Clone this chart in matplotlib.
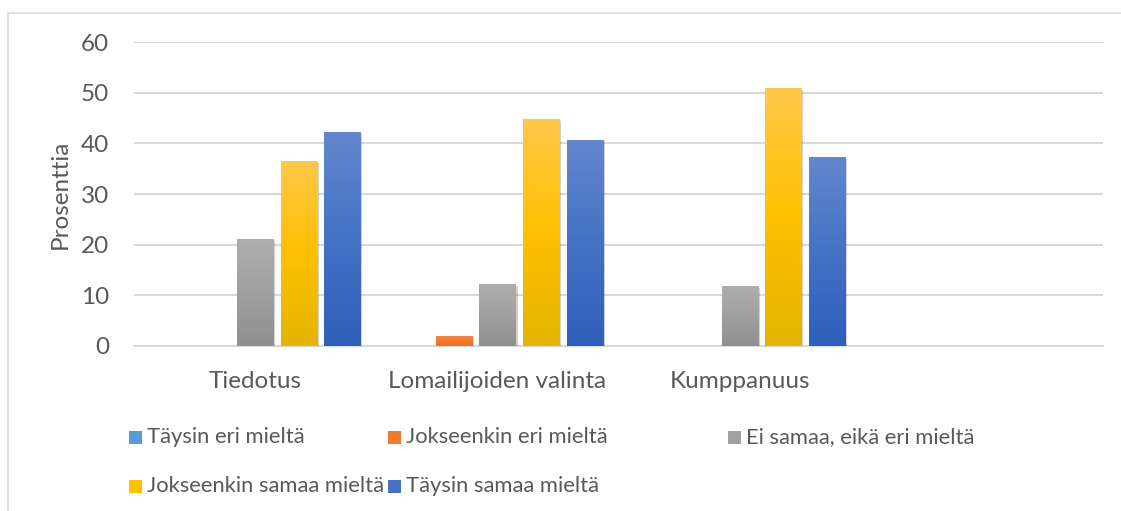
import numpy as np
import matplotlib
matplotlib.use("Agg")
import matplotlib.pyplot as plt
from matplotlib.patches import Rectangle
from matplotlib.colors import to_rgb
import matplotlib.patheffects as pe

plt.rcParams['font.family'] = ['Lato', 'DejaVu Sans']

categories = ["Tiedotus", "Lomailijoiden valinta", "Kumppanuus", ""]
series_names = ["Täysin eri mieltä", "Jokseenkin eri mieltä", "Ei samaa, eikä eri mieltä",
                "Jokseenkin samaa mieltä", "Täysin samaa mieltä"]
taysin_eri = [0, 0, 0, 0]
jokseenkin_eri = [0, 2.0, 0, 0]
ei_samaa = [21.1, 12.2, 11.8, 0]
jokseenkin_samaa = [36.5, 44.8, 50.9, 0]
taysin_samaa = [42.2, 40.7, 37.3, 0]
yticks = [0, 10, 20, 30, 40, 50, 60]

# gradients: top -> middle -> bottom
gradients = [
    ["#74ABE0", "#5B9BD5", "#4A8BCB"],
    ["#F58B4C", "#F07A30", "#EC7024"],
    ["#AEAEAE", "#A0A0A0", "#8F8F8F"],
    ["#FFC848", "#FFC000", "#E3B500"],
    ["#6387CE", "#4472C4", "#2E5FBA"],
]
all_values = [taysin_eri, jokseenkin_eri, ei_samaa, jokseenkin_samaa, taysin_samaa]

W, H = 1121, 511
fig = plt.figure(figsize=(W / 100, H / 100), dpi=100)
ax = fig.add_axes([134 / W, 1 - 346 / H, (1103 - 134) / W, (346 - 42) / H])

text_col = "#595959"
grid_col = "#D9D9D9"


def grad_img(cols, n=64):
    c = np.array([to_rgb(x) for x in cols])
    t = np.linspace(0, 1, n)
    k = np.linspace(0, 1, len(c))
    img = np.stack([np.interp(t, k, c[:, j]) for j in range(3)], axis=1)
    return img[::-1].reshape(n, 1, 3)  # bottom row first for origin lower


x = np.arange(len(categories))
step = 0.18
width = 0.149
for i, (vals, cols) in enumerate(zip(all_values, gradients)):
    offs = (i - 2) * step
    for xi, v in zip(x, vals):
        if v <= 0:
            continue
        bars = ax.bar(xi + offs, v, width, color=cols[-1], zorder=3, linewidth=0)
        b = bars[0]
        b.set_path_effects([pe.SimplePatchShadow(offset=(1.5, -1.5), shadow_rgbFace="#000000", alpha=0.18),
                            pe.Normal()])
        im = ax.imshow(grad_img(cols), extent=[xi + offs - width / 2, xi + offs + width / 2, 0, v],
                       origin="lower", aspect="auto", zorder=4, interpolation="bilinear")
        im.set_clip_path(b)

ax.set_xlim(-0.5, 3.5)
ax.set_ylim(0, 60)
ax.set_yticks(yticks)
ax.set_xticks(x)
ax.set_xticklabels(categories)
ax.grid(axis="y", color=grid_col, linewidth=1.5, zorder=0)
ax.set_axisbelow(True)
for s in ["top", "right", "left"]:
    ax.spines[s].set_visible(False)
ax.spines["bottom"].set_color(grid_col)
ax.spines["bottom"].set_linewidth(1.5)
ax.tick_params(axis="both", length=0, labelsize=17.5, colors=text_col)
ax.tick_params(axis="y", pad=18)
ax.tick_params(axis="x", pad=18)

fig.text(60 / W, 1 - 194 / H, "Prosenttia", rotation=90, ha="center", va="center",
         fontsize=17.5, color=text_col)

# legend, row-major like the original
leg_pos = [(129, 437), (388, 437), (728, 437), (129, 486), (388, 486)]
for name, cols, (px, py) in zip(series_names, gradients, leg_pos):
    fig.patches.append(Rectangle((px / W, 1 - (py + 6.5) / H), 13 / W, 13 / H,
                                 transform=fig.transFigure, facecolor=cols[1], edgecolor="none"))
    fig.text((px + 18) / W, 1 - py / H, name, ha="left", va="center", fontsize=15.8, color=text_col)

# chart border (only top and left visible in the crop)
fig.patches.append(Rectangle((8 / W, -0.2), 1.5, (H - 13) / H + 0.2, transform=fig.transFigure,
                             facecolor="none", edgecolor=grid_col, linewidth=1.2))

fig.savefig("out.png", dpi=100)
